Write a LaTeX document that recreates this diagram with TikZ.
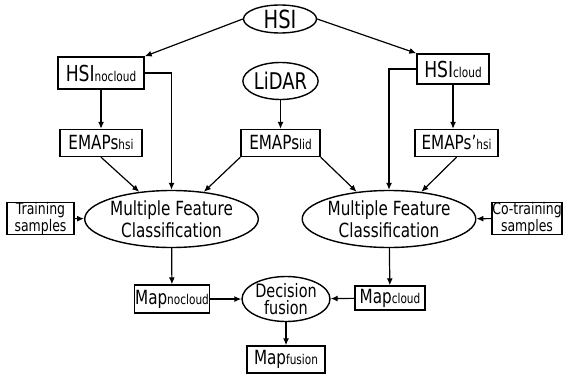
\documentclass[tikz,border=0pt]{standalone}
\usepackage{fontspec}
\setmainfont{DejaVu Sans}[FakeStretch=0.78]
\usetikzlibrary{arrows.meta,shapes.geometric}

\newcommand{\lowtxt}[1]{{\fontsize{13.5}{13.5}\selectfont #1}}

\tikzset{
  box/.style={draw,line width=1.4pt,inner sep=0pt,font=\fontsize{19.5}{22}\selectfont},
  oval/.style={draw,ellipse,line width=1.4pt,inner sep=0pt,align=center,font=\fontsize{19.5}{21.5}\selectfont},
  small/.style={box,align=center,font=\fontsize{16}{15}\selectfont},
  link/.style={line width=1.2pt,-{Latex[length=7pt,width=6pt]}}
}

\begin{document}
\begin{tikzpicture}
[x=1pt,y=-1pt]
\useasboundingbox (0,0) rectangle (564,377);

\node[oval,minimum width=73,minimum height=28,font=\fontsize{25}{25}\selectfont] (hsi) at (280,19) {HSI};
\node[box,minimum width=86,minimum height=32,font=\fontsize{22}{22}\selectfont] (hsinc) at (101,73) {HSI\lowtxt{nocloud}};
\node[box,minimum width=72,minimum height=30,font=\fontsize{22}{22}\selectfont] (hsic) at (453,69) {HSI\lowtxt{cloud}};
\node[oval,minimum width=75,minimum height=37,font=\fontsize{23}{23}\selectfont] (lidar) at (280.5,81) {LiDAR};

\node[box,minimum width=82,minimum height=27] (emh) at (101,143) {EMAPs\lowtxt{hsi}};
\node[box,minimum width=79,minimum height=27] (eml) at (280.5,143) {EMAPs\lowtxt{lid}};
\node[box,minimum width=83,minimum height=27] (emc) at (456.5,143) {EMAPs\symbol{39}\lowtxt{hsi}};

\node[oval,minimum width=149,minimum height=57] (mfl) at (171.5,219) {Multiple Feature\\Classification};
\node[oval,minimum width=150,minimum height=57] (mfr) at (389,219) {Multiple Feature\\Classification};
\node[small,minimum width=67,minimum height=31] (train) at (40.5,218.5) {Training\\samples};
\node[small,minimum width=70,minimum height=31] (cotrain) at (527,218.5) {Co-training\\samples};

\node[box,minimum width=75,minimum height=28] (mapnc) at (172,299) {Map\lowtxt{nocloud}};
\node[oval,minimum width=88,minimum height=44,font=\fontsize{18.5}{17.5}\selectfont] (fusion) at (286,299) {Decision\\fusion};
\node[box,minimum width=70,minimum height=24] (mapc) at (390,298) {Map\lowtxt{cloud}};
\node[box,minimum width=78,minimum height=27] (mapf) at (286,359.5) {Map\lowtxt{fusion}};

\foreach \from/\to in {hsi.west/hsinc.north east,hsi.east/hsic.north west,hsinc/emh,lidar/eml,emh.south/mfl.140,eml.south west/mfl.40,eml.south east/mfr.140,emc.south/mfr.40,train/mfl,cotrain/mfr,mfl/mapnc,mfr/mapc,mapnc/fusion,mapc/fusion,fusion/mapf}
\draw[link] (\from) -- (\to);

\draw[link] (hsic.south) -- (hsic.south |- emc.north);
\draw[link] (hsinc.east) -| (mfl.north);
\draw[link] (hsic.west) -| (mfr.north);
\end{tikzpicture}
\end{document}
